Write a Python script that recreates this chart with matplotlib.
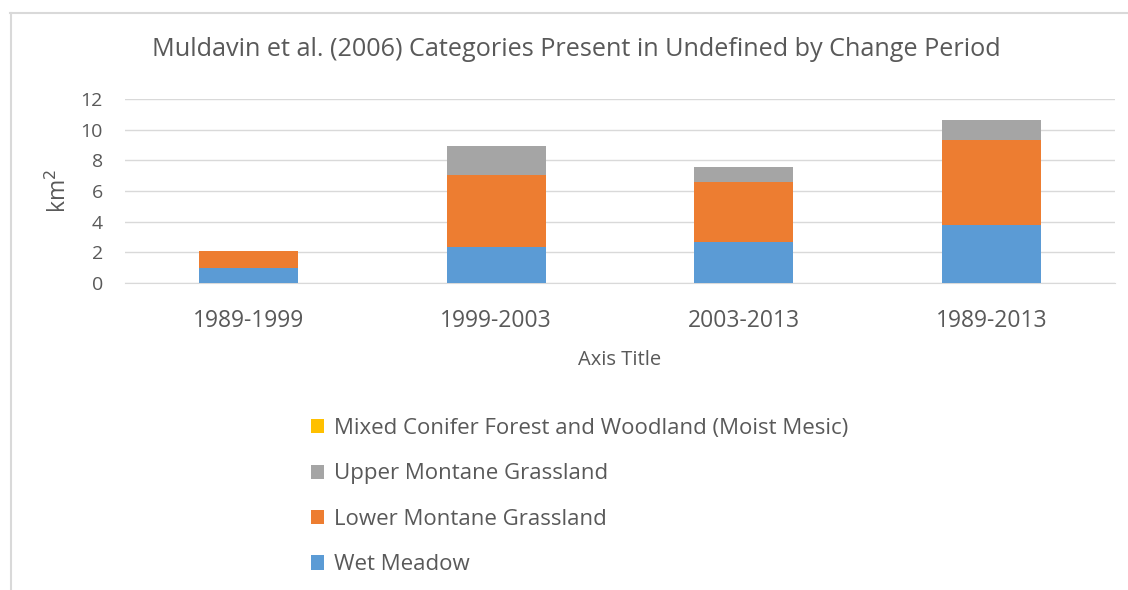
import matplotlib
matplotlib.use("Agg")
import matplotlib.pyplot as plt
from matplotlib.patches import Patch
from matplotlib.lines import Line2D

plt.rcParams['font.family'] = ['Open Sans', 'DejaVu Sans']

categories = ["1989-1999", "1999-2003", "2003-2013", "1989-2013"]
wet_meadow = [1.0, 2.35, 2.65, 3.8]
lower_montane = [1.08, 4.7, 3.95, 5.55]
upper_montane = [0.0, 1.9, 0.95, 1.25]
mixed_conifer = [0.0, 0.0, 0.0, 0.0]
series_names = ["Wet Meadow", "Lower Montane Grassland", "Upper Montane Grassland",
                "Mixed Conifer Forest and Woodland (Moist Mesic)"]
colors = ["#5b9bd5", "#ed7d31", "#a5a5a5", "#ffc000"]
yticks = [0, 2, 4, 6, 8, 10, 12]

fig = plt.figure(figsize=(11.28, 5.9), dpi=100)
W, H = 1128, 590
ax = fig.add_axes([125 / W, (H - 283) / H, (1115 - 125) / W, (283 - 99) / H])

series = [wet_meadow, lower_montane, upper_montane, mixed_conifer]
x = list(range(len(categories)))
bottom = [0.0] * len(categories)
for vals, c in zip(series, colors):
    ax.bar(x, vals, width=0.4, bottom=bottom, color=c, zorder=3)
    bottom = [b + v for b, v in zip(bottom, vals)]

ax.set_xlim(-0.5, len(categories) - 0.5)
ax.set_ylim(0, 12)
ax.set_yticks(yticks)
ax.set_xticks(x)
ax.set_xticklabels(categories)
ax.grid(axis='y', color='#d9d9d9', linewidth=1, zorder=0)
for s in ['top', 'right', 'left']:
    ax.spines[s].set_visible(False)
ax.spines['bottom'].set_color('#d9d9d9')
ax.tick_params(axis='both', length=0, colors='#595959')
ax.tick_params(axis='x', labelsize=16.5, pad=19)
ax.tick_params(axis='y', labelsize=14, pad=16)

ax.set_ylabel("km$^2$", fontsize=16.5, color='#595959')
ax.yaxis.set_label_coords(-0.054, 0.5)
ax.set_xlabel("Axis Title", fontsize=14.5, color='#595959', labelpad=12)

fig.text(576 / W, 1 - 50 / H, "Muldavin et al. (2006) Categories Present in Undefined by Change Period",
         ha='center', va='center', fontsize=18.2, color='#595959')

handles = [Patch(facecolor=c, edgecolor='none') for c in colors[::-1]]
fig.legend(handles, series_names[::-1], loc='upper left', bbox_to_anchor=(291 / W, 1 - 398 / H),
           frameon=False, fontsize=16, labelspacing=1.1, handlelength=0.6, handleheight=0.6,
           handletextpad=0.45, labelcolor='#595959')

fig.add_artist(Line2D([10 / W, 1], [1 - 13 / H, 1 - 13 / H], transform=fig.transFigure,
                      color='#d9d9d9', linewidth=1.5))
fig.add_artist(Line2D([11 / W, 11 / W], [0, 1 - 13 / H], transform=fig.transFigure,
                      color='#d9d9d9', linewidth=1.5))

fig.savefig("out.png", dpi=100)
